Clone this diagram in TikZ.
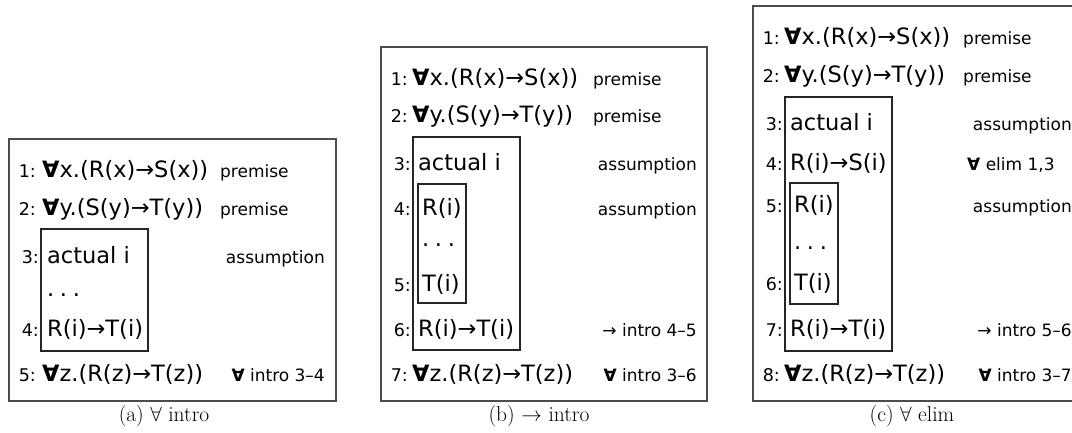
\documentclass[tikz,border=0pt]{standalone}
\usepackage{fontspec}
\newfontfamily\prffont{DejaVu Sans}
\usetikzlibrary{positioning}
\newcommand{\qall}{{\bfseries ∀}}
\newcommand{\vdotsrow}{.\hspace{0.25em}.\hspace{0.25em}.}

\begin{document}
\begin{tikzpicture}[x=1pt, y=-1pt,
	frm/.style={draw=black!70, line width=1.1pt},
	sbox/.style={draw=black!85, line width=1.1pt},
	fml/.style={anchor=base west, inner sep=0pt, font=\prffont\fontsize{22.5}{26}\selectfont},
	lno/.style={anchor=base east, inner sep=0pt, font=\prffont\fontsize{17.5}{20}\selectfont},
	jst/.style={inner sep=0pt, font=\prffont\fontsize{17}{20}\selectfont},
	capt/.style={anchor=base, inner sep=0pt, font=\fontsize{21.5}{25}\selectfont}]
	\useasboundingbox (0,0) rectangle (1072,433);
	\clip (0,0) rectangle (1072,433);

	% (a) forall intro
	\draw[frm] (9,139) rectangle (336,401);
	\draw[sbox] (41,229) rectangle (148,351);
	\foreach \y/\nx/\n/\fx/\f/\ja/\jx/\j [count=\i] in {
		178/36/1:/42/{\qall x.(R(x)→S(x))}/west/220/premise,
		215/36/2:/42/{\qall y.(S(y)→T(y))}/west/220/premise,
		263/39/3:/47/{actual i}/east/325/assumption,
		336/39/4:/47/{R(i)→T(i)}/east/325/{},
		381/36/5:/42/{\qall z.(R(z)→T(z))}/east/325/{\qall\ intro 3–4}}{
		\node[fml] (a\i) at (\fx,\y) {\f};
		\node[lno] (an\i) at (\nx,\y) {\n};
		\node[jst, anchor=base \ja] (aj\i) at (\jx,\y) {\j};
	}
	\node[fml] (adots) at (47,296) {\vdotsrow};
	\node[capt] (acap) at (164,421) {(a) $\forall$ intro};

	% (b) arrow intro
	\draw[frm] (381,47) rectangle (707,401);
	\draw[sbox] (413,137) rectangle (520,350);
	\draw[sbox] (418,184) rectangle (466,303);
	\foreach \y/\nx/\n/\fx/\f/\ja/\jx/\j [count=\i] in {
		86/408/1:/412/{\qall x.(R(x)→S(x))}/west/593/premise,
		123/408/2:/412/{\qall y.(S(y)→T(y))}/west/593/premise,
		171/411/3:/418/{actual i}/east/697/assumption,
		215/411/4:/422/{R(i)}/east/697/assumption,
		291/411/5:/422/{T(i)}/east/697/{},
		336/411/6:/418/{R(i)→T(i)}/east/697/{→ intro 4–5},
		381/408/7:/412/{\qall z.(R(z)→T(z))}/east/697/{\qall\ intro 3–6}}{
		\node[fml] (b\i) at (\fx,\y) {\f};
		\node[lno] (bn\i) at (\nx,\y) {\n};
		\node[jst, anchor=base \ja] (bj\i) at (\jx,\y) {\j};
	}
	\node[fml] (bdots) at (422,247) {\vdotsrow};
	\node[capt] (bcap) at (539,421) {(b) $\rightarrow$ intro};

	% (c) forall elim
	\draw[frm] (753,6) rectangle (1083,401);
	\draw[sbox] (785,97) rectangle (892,351);
	\draw[sbox] (790,183) rectangle (838,304);
	\foreach \y/\nx/\n/\fx/\f/\ja/\jx/\j [count=\i] in {
		45/780/1:/784/{\qall x.(R(x)→S(x))}/west/963/premise,
		83/780/2:/784/{\qall y.(S(y)→T(y))}/west/963/premise,
		131/783/3:/790/{actual i}/east/1072/assumption,
		171/783/4:/790/{R(i)→S(i)}/west/967/{\qall\ elim 1,3},
		213/783/5:/794/{R(i)}/east/1072/assumption,
		290/783/6:/794/{T(i)}/east/1072/{},
		336/783/7:/790/{R(i)→T(i)}/east/1072/{→ intro 5–6},
		381/780/8:/784/{\qall z.(R(z)→T(z))}/east/1072/{\qall\ intro 3–7}}{
		\node[fml] (c\i) at (\fx,\y) {\f};
		\node[lno] (cn\i) at (\nx,\y) {\n};
		\node[jst, anchor=base \ja] (cj\i) at (\jx,\y) {\j};
	}
	\node[fml] (cdots) at (794,249) {\vdotsrow};
	\node[capt] (ccap) at (912,421) {(c) $\forall$ elim};
\end{tikzpicture}
\end{document}
